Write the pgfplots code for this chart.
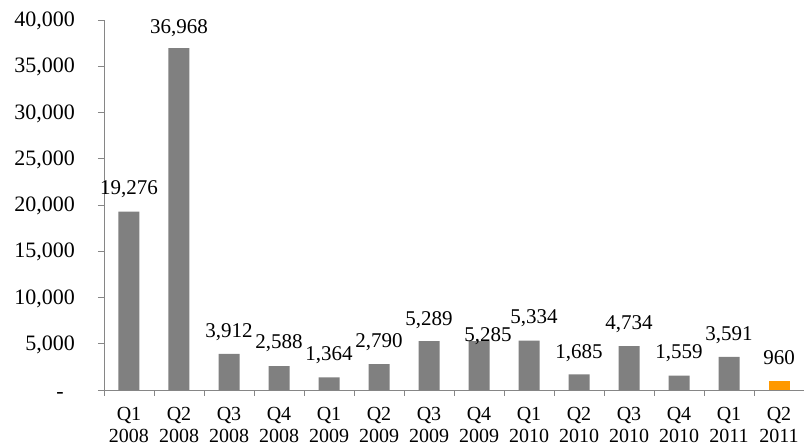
\documentclass[border=0pt]{standalone}
\usepackage{pgfplots}
\pgfplotsset{compat=1.18}
\usepackage{fontspec}
\setmainfont{Liberation Serif}
\definecolor{bargray}{RGB}{128,128,128}
\definecolor{axisgray}{RGB}{134,134,134}
\definecolor{barorange}{RGB}{255,153,0}
\begin{document}
\begin{tikzpicture}
\useasboundingbox (-104bp,-58bp) rectangle (700bp,390bp);
\begin{axis}[
    at={(0,0)}, anchor=south west,
    scale only axis, width=700bp, height=370bp,
    axis lines*=left,
    axis line style={draw=axisgray, line width=0.8bp},
    xmin=-0.5, xmax=13.5, ymin=0, ymax=40000,
    scaled y ticks=false,
    ytick={0,5000,...,40000},
    yticklabels={{-\phantom{0}},{5,000},{10,000},{15,000},{20,000},{25,000},{30,000},{35,000},{40,000}},
    tick align=outside,
    major tick length=6bp,
    tick style={draw=axisgray, line width=0.8bp},
    xtick={-0.5,0.5,...,13.5}, xticklabels={},
    extra x ticks={0,...,13},
    extra x tick labels={{Q1\\2008},{Q2\\2008},{Q3\\2008},{Q4\\2008},{Q1\\2009},{Q2\\2009},{Q3\\2009},{Q4\\2009},{Q1\\2010},{Q2\\2010},{Q3\\2010},{Q4\\2010},{Q1\\2011},{Q2\\2011}},
    extra x tick style={major tick length=0pt},
    yticklabel style={font=\fontsize{22bp}{24bp}\selectfont, inner sep=0pt, xshift=-23bp, yshift=-1bp},
    xticklabel style={font=\fontsize{20bp}{22bp}\selectfont, align=center, inner sep=0pt, yshift=-17bp},
    clip=false,
]
% bars
\addplot[ybar, bar width=21bp, bar shift=0pt, fill=bargray, draw=none] coordinates {
    (0,19276) (1,36968) (2,3912) (3,2588) (4,1364) (5,2790) (6,5289)
    (7,5285) (8,5334) (9,1685) (10,4734) (11,1559) (12,3591)
};
\addplot[ybar, bar width=21bp, bar shift=0pt, fill=barorange, draw=none] coordinates {
    (13,960)
};
% data labels, placed where the reference puts them
\addplot[draw=none, mark=none, point meta=explicit symbolic, nodes near coords,
    nodes near coords style={anchor=center, inner sep=0pt, text depth=0pt,
        font=\fontsize{21bp}{24bp}\selectfont}] coordinates {
    (0,21838)[19,276] (1,39243)[36,968] (2,6378)[3,912] (3,5189)[2,588]
    (4,3892)[1,364] (5,5297)[2,790] (6,7676)[5,289] (7.18,5946)[5,285]
    (8.1,7892)[5,334] (9,4108)[1,685] (10,7243)[4,734] (11,4108)[1,559]
    (12,6054)[3,591] (13,3459)[960]
};
\end{axis}
\end{tikzpicture}
\end{document}
